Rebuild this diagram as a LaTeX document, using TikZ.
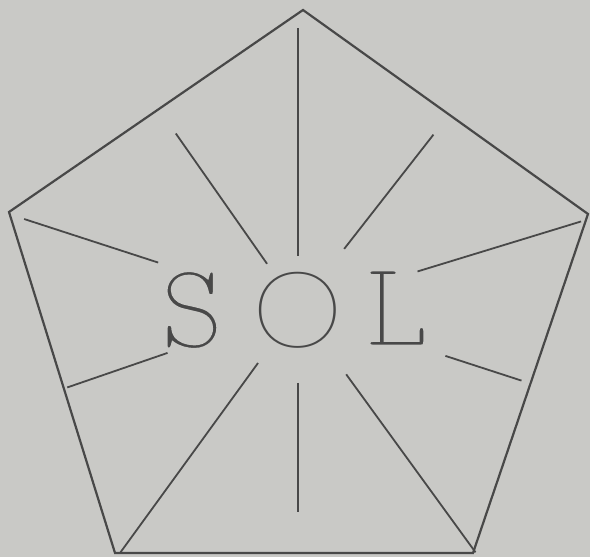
\documentclass[tikz,border=0pt]{standalone}
\usepackage{fontspec}
\newfontfamily\roundface{Poppins Thin}
\definecolor{paper}{RGB}{201,201,198}
\definecolor{ink}{RGB}{72,72,72}
% pare the glyph strokes down with a paper-coloured outline
\newcommand{\pared}[1]{\special{pdf:literal direct 2 Tr 1.3 w 0.788 0.788 0.776 RG}#1\special{pdf:literal direct 0 Tr}}
\tikzset{
  rim/.style={draw=ink, line width=1.1pt, line join=miter},
  ray/.style={draw=ink, line width=0.9pt},
  letter/.style={text=ink, inner sep=0pt, font=\fontsize{62}{62}\ttfamily\fontseries{l}\selectfont}
}
\begin{document}
\begin{tikzpicture}[x=0.5pt,y=0.5pt]
  \fill[paper] (0,0) rectangle (590,557);
  \useasboundingbox (0,0) rectangle (590,557);
  % centre of the star
  \coordinate (c) at (298,249);
  % pentagon
  \coordinate (top) at (303,547);
  \coordinate (rt) at (588,343);
  \coordinate (br) at (473,4);
  \coordinate (bl) at (115,4);
  \coordinate (lt) at (9,345);
  \draw[rim] (top) -- (rt) -- (br) -- (bl) -- (lt) -- cycle;
  % rays
  \foreach \a/\r/\R in {90/52/280, 125/54/213, 52/75/220, 162/147/288, 17/125/296,
                        199/138/244, -18/155/235, 234/68/302, 270/75/204, -54/82/302}{
    \draw[ray] ([shift={(\a:\r)}]c) -- ([shift={(\a:\R)}]c);
  }
  % the word
  \node[letter] (s) at (192,247) {\pared{S}};
  \node[letter, font=\fontsize{53}{53}\roundface, xscale=1.08] (o) at (298,247) {O};
  \node[letter] (l) at (397,249) {\pared{L}};
\end{tikzpicture}
\end{document}
